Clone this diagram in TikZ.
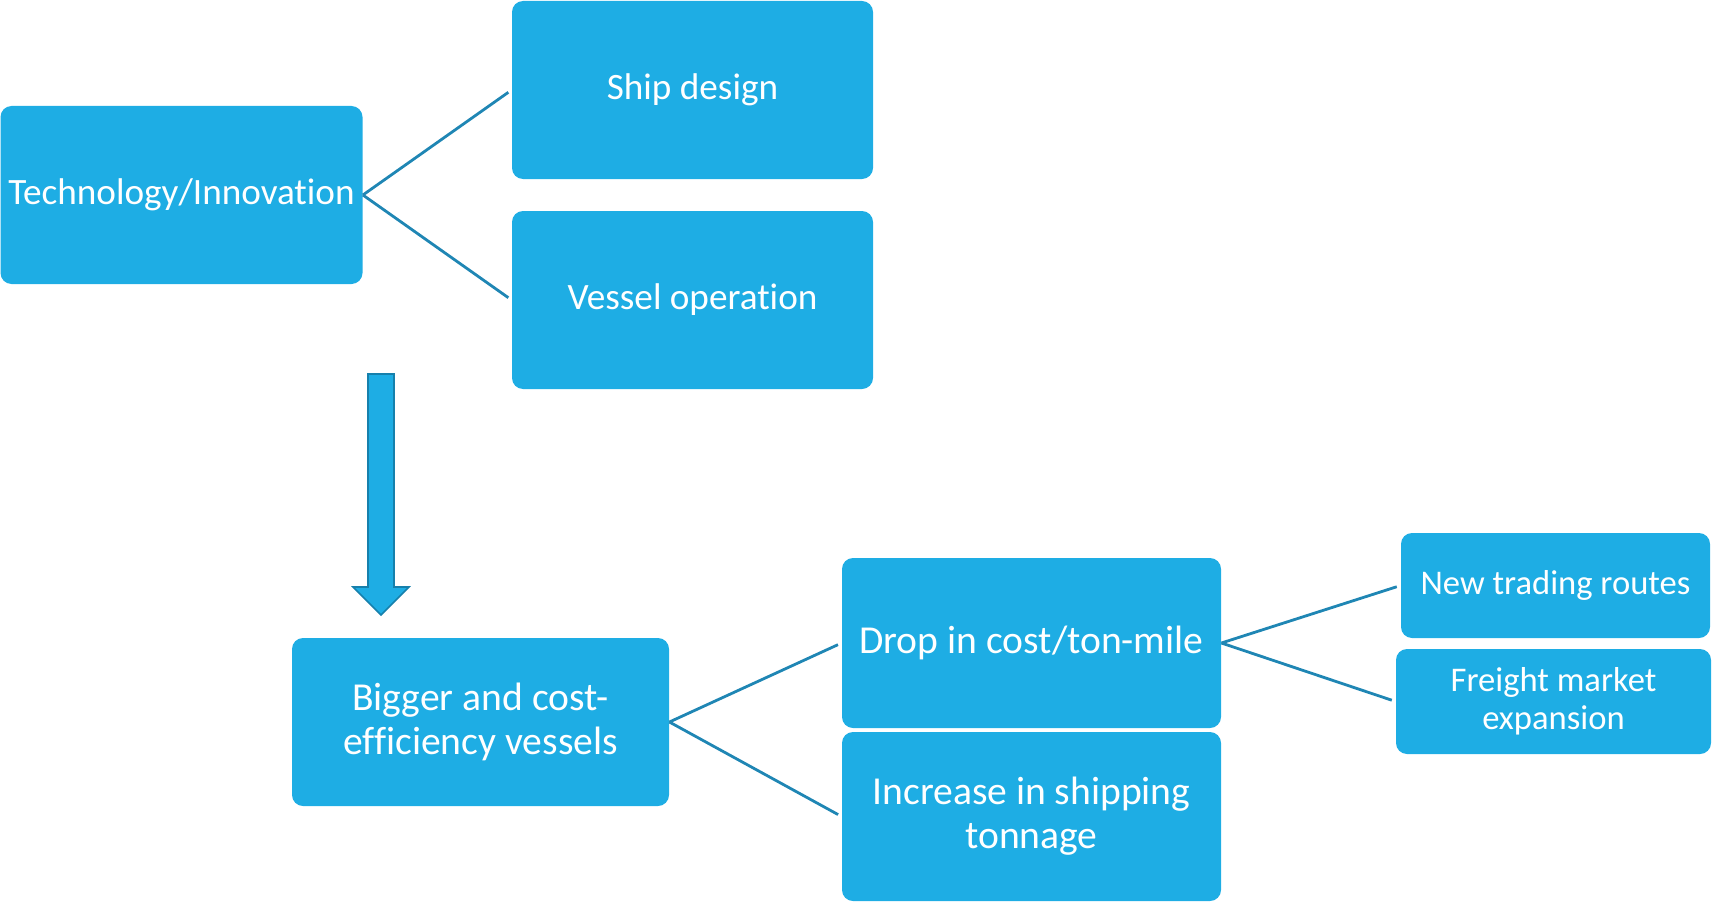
\documentclass[tikz,border=0pt]{standalone}
\usepackage{fontspec}
\setmainfont{Carlito}[Ligatures=NoCommon]
\usetikzlibrary{positioning}
\definecolor{boxblue}{RGB}{30,173,228}
\definecolor{linkblue}{RGB}{31,134,180}
\definecolor{arrowedge}{RGB}{22,128,172}

\begin{document}
\begin{tikzpicture}[x=0.5pt,y=-0.5pt,
    box/.style={rectangle,rounded corners=5.5pt,fill=boxblue,text=white,
      align=center,inner sep=0pt,font=\fontsize{18.6}{22}\selectfont},
    large/.style={font=\fontsize{19.8}{22}\selectfont},
    small/.style={font=\fontsize{17.3}{19}\selectfont},
    link/.style={draw=linkblue,line width=1.4pt,shorten >=2pt}]

  \useasboundingbox (0,0) rectangle (1713,904);

  \node[box,minimum width=181pt,minimum height=89pt] (tech) at (181.5,195) {Technology/Innovation};
  \node[box,minimum width=180.5pt,minimum height=89pt] (ship) at (692.5,90) {Ship design};
  \node[box,minimum width=180.5pt,minimum height=89pt] (vessel) at (692.5,300) {Vessel operation};

  \node[box,large,minimum width=188.5pt,minimum height=84pt] (bigger) at (480.5,722) {Bigger and cost-\\efficiency vessels};
  \node[box,large,minimum width=189.5pt,minimum height=85pt] (drop) at (1031.5,643) {Drop in cost/ton-mile};
  \node[box,large,minimum width=189.5pt,minimum height=84.5pt] (increase) at (1031.5,816.5) {Increase in shipping\\tonnage};
  \node[box,small,minimum width=154.5pt,minimum height=52.5pt] (routes) at (1555.5,585.5) {New trading routes};
  \node[box,small,minimum width=157.5pt,minimum height=52.5pt] (freight) at (1553.5,701.5) {Freight market\\expansion};

  % block arrow
  \draw[fill=boxblue,draw=arrowedge,line width=0.8pt,line join=miter]
    (368,374) -- (394,374) -- (394,587) -- (409,587) -- (381,615)
    -- (353,587) -- (368,587) -- cycle;

  \draw[link] (tech.east) -- (ship.west);
  \draw[link] (tech.east) -- (vessel.west);
  \draw[link] (bigger.east) -- (drop.west);
  \draw[link] (bigger.east) -- (increase.west);
  \draw[link] (drop.east) -- (routes.west);
  \draw[link] (drop.east) -- (freight.west);

\end{tikzpicture}
\end{document}
